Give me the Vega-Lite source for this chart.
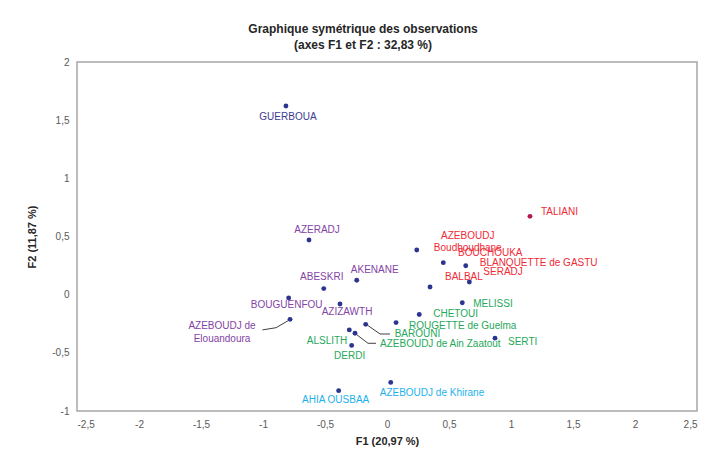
{
  "$schema": "https://vega.github.io/schema/vega-lite/v6.json",
  "width": 620,
  "height": 349,
  "autosize": {"type": "none"},
  "padding": {"left": 77, "top": 62, "right": 11, "bottom": 41},
  "background": "white",
  "title": {
    "text": ["Graphique symétrique des observations", "(axes F1 et F2 : 32,83 %)"],
    "font": "Liberation Sans",
    "fontSize": 12,
    "fontWeight": "bold",
    "color": "#262626",
    "anchor": "middle",
    "dx": -24,
    "offset": 5,
    "lineHeight": 16
  },
  "config": {
    "view": {"stroke": "#a6a6a6", "strokeWidth": 1.5},
    "axis": {
      "grid": false,
      "ticks": false,
      "domain": false,
      "labelFont": "Liberation Sans",
      "labelFontSize": 10,
      "labelColor": "#595959",
      "titleFont": "Liberation Sans",
      "titleFontSize": 11,
      "titleFontWeight": "bold",
      "titleColor": "#262626",
      "labelPadding": 8
    },
    "text": {"font": "Liberation Sans", "fontSize": 10}
  },
  "datasets": {
    "obs": [
      {"name": "GUERBOUA", "label": "GUERBOUA", "group": "g0", "F1": -0.815, "F2": 1.622},
      {"name": "TALIANI", "label": "TALIANI", "group": "red", "F1": 1.153, "F2": 0.673},
      {"name": "AZERADJ", "label": "AZERADJ", "group": "purple", "F1": -0.629, "F2": 0.470},
      {"name": "AKENANE", "label": "AKENANE", "group": "purple", "F1": -0.244, "F2": 0.124},
      {"name": "ABESKRI", "label": "ABESKRI", "group": "purple", "F1": -0.510, "F2": 0.052},
      {"name": "BOUGUENFOU", "label": "BOUGUENFOU", "group": "purple", "F1": -0.793, "F2": -0.028},
      {"name": "AZIZAWTH", "label": "AZIZAWTH", "group": "purple", "F1": -0.379, "F2": -0.080},
      {"name": "AZEBOUDJ de Elouandoura", "label": ["AZEBOUDJ de", "Elouandoura"], "group": "purple", "F1": -0.782, "F2": -0.212},
      {"name": "AZEBOUDJ Boudhoudhane", "label": ["AZEBOUDJ", "Boudhoudhane"], "group": "red", "F1": 0.240, "F2": 0.384},
      {"name": "BOUCHOUKA", "label": "BOUCHOUKA", "group": "red", "F1": 0.454, "F2": 0.275},
      {"name": "BLANQUETTE de GASTU", "label": "BLANQUETTE de GASTU", "group": "red", "F1": 0.635, "F2": 0.249},
      {"name": "SERADJ", "label": "SERADJ", "group": "red", "F1": 0.664, "F2": 0.109},
      {"name": "BALBAL", "label": "BALBAL", "group": "red", "F1": 0.347, "F2": 0.066},
      {"name": "MELISSI", "label": "MELISSI", "group": "green", "F1": 0.607, "F2": -0.069},
      {"name": "CHETOUI", "label": "CHETOUI", "group": "green", "F1": 0.260, "F2": -0.170},
      {"name": "ROUGETTE de Guelma", "label": "ROUGETTE de Guelma", "group": "green", "F1": 0.073, "F2": -0.240},
      {"name": "SERTI", "label": "SERTI", "group": "green", "F1": 0.871, "F2": -0.374},
      {"name": "BAROUNI", "label": "BAROUNI", "group": "green", "F1": -0.172, "F2": -0.255},
      {"name": "AZEBOUDJ de Ain Zaatout", "label": "AZEBOUDJ de Ain Zaatout", "group": "green", "F1": -0.258, "F2": -0.332},
      {"name": "ALSLITH", "label": "ALSLITH", "group": "green", "F1": -0.304, "F2": -0.303},
      {"name": "DERDI", "label": "DERDI", "group": "green", "F1": -0.285, "F2": -0.436},
      {"name": "AHIA OUSBAA", "label": "AHIA OUSBAA", "group": "blue", "F1": -0.390, "F2": -0.825},
      {"name": "AZEBOUDJ de Khirane", "label": "AZEBOUDJ de Khirane", "group": "blue", "F1": 0.030, "F2": -0.754}
    ],
    "leaders": [
      {"leader": "Elouandoura", "ord": 1, "F1": -0.798, "F2": -0.224},
      {"leader": "Elouandoura", "ord": 2, "F1": -0.895, "F2": -0.284},
      {"leader": "Elouandoura", "ord": 3, "F1": -1.005, "F2": -0.303},
      {"leader": "Barouni", "ord": 1, "F1": -0.161, "F2": -0.260},
      {"leader": "Barouni", "ord": 2, "F1": -0.056, "F2": -0.338},
      {"leader": "Barouni", "ord": 3, "F1": 0.024, "F2": -0.338},
      {"leader": "Zaatout", "ord": 1, "F1": -0.242, "F2": -0.346},
      {"leader": "Zaatout", "ord": 2, "F1": -0.153, "F2": -0.418},
      {"leader": "Zaatout", "ord": 3, "F1": -0.089, "F2": -0.418}
    ],
    "xticks": [
      {"v": -2}, {"v": -1.5}, {"v": -1}, {"v": -0.5}, {"v": 0.5}, {"v": 1}, {"v": 1.5}, {"v": 2}
    ],
    "yticks": [
      {"v": -0.5}, {"v": 0.5}, {"v": 1}, {"v": 1.5}
    ]
  },
  "encoding": {
    "x": {
      "field": "F1", "type": "quantitative",
      "scale": {"domain": [-2.5, 2.5], "nice": false, "zero": false},
      "axis": {"title": "F1 (20,97 %)", "values": [-2.5, -2, -1.5, -1, -0.5, 0, 0.5, 1, 1.5, 2, 2.5], "format": ".1~f", "labelExpr": "replace(replace(datum.label, '.', ','), '\u2212', '-')", "titlePadding": 6}
    },
    "y": {
      "field": "F2", "type": "quantitative",
      "scale": {"domain": [-1, 2], "nice": false, "zero": false},
      "axis": {"title": "F2 (11,87 %)", "values": [-1, -0.5, 0, 0.5, 1, 1.5, 2], "format": ".1~f", "labelExpr": "replace(replace(datum.label, '.', ','), '\u2212', '-')", "titlePadding": 14}
    }
  },
  "layer": [
    {"mark": {"type": "rule", "color": "#a6a6a6", "strokeWidth": 1.2}, "encoding": {"x": {"datum": 0}, "y": null}},
    {"mark": {"type": "rule", "color": "#a6a6a6", "strokeWidth": 1.2}, "encoding": {"y": {"datum": 0}, "x": null}},
    {"data": {"name": "xticks"}, "mark": {"type": "tick", "orient": "vertical", "color": "#a6a6a6", "size": 7, "thickness": 1.2}, "encoding": {"x": {"field": "v", "type": "quantitative"}, "y": {"datum": 0}}},
    {"data": {"name": "yticks"}, "mark": {"type": "tick", "orient": "horizontal", "color": "#a6a6a6", "size": 7, "thickness": 1.2}, "encoding": {"y": {"field": "v", "type": "quantitative"}, "x": {"datum": 0}}},
    {"data": {"name": "leaders"}, "mark": {"type": "line", "color": "#404040", "strokeWidth": 1}, "encoding": {"detail": {"field": "leader"}, "order": {"field": "ord", "type": "quantitative"}}},
    {"data": {"name": "obs"}, "mark": {"type": "circle", "size": 24, "opacity": 1}, "encoding": {
      "color": {"condition": {"test": "datum.name === 'TALIANI'", "value": "#b4194e"}, "value": "#2b3590"}
    }},
    {"data": {"name": "obs"}, "transform": [{"filter": {"field": "name", "oneOf": ["GUERBOUA"]}}], "mark": {"type": "text", "align": "center", "baseline": "middle", "dx": 2, "dy": 11, "color": "#3d3c92"}, "encoding": {"text": {"field": "label"}}},
    {"data": {"name": "obs"}, "transform": [{"filter": {"field": "name", "oneOf": ["TALIANI"]}}], "mark": {"type": "text", "align": "left", "baseline": "middle", "dx": 11, "dy": -4, "color": "#ef2a36"}, "encoding": {"text": {"field": "label"}}},
    {"data": {"name": "obs"}, "transform": [{"filter": {"field": "name", "oneOf": ["AZERADJ"]}}], "mark": {"type": "text", "align": "center", "baseline": "middle", "dx": 8, "dy": -10, "color": "#8443a6"}, "encoding": {"text": {"field": "label"}}},
    {"data": {"name": "obs"}, "transform": [{"filter": {"field": "name", "oneOf": ["AKENANE"]}}], "mark": {"type": "text", "align": "center", "baseline": "middle", "dx": 18, "dy": -10, "color": "#8443a6"}, "encoding": {"text": {"field": "label"}}},
    {"data": {"name": "obs"}, "transform": [{"filter": {"field": "name", "oneOf": ["ABESKRI"]}}], "mark": {"type": "text", "align": "center", "baseline": "middle", "dx": -2, "dy": -12, "color": "#8443a6"}, "encoding": {"text": {"field": "label"}}},
    {"data": {"name": "obs"}, "transform": [{"filter": {"field": "name", "oneOf": ["BOUGUENFOU"]}}], "mark": {"type": "text", "align": "center", "baseline": "middle", "dx": -2, "dy": 7, "color": "#8443a6"}, "encoding": {"text": {"field": "label"}}},
    {"data": {"name": "obs"}, "transform": [{"filter": {"field": "name", "oneOf": ["AZIZAWTH"]}}], "mark": {"type": "text", "align": "center", "baseline": "middle", "dx": 7, "dy": 8, "color": "#8443a6"}, "encoding": {"text": {"field": "label"}}},
    {"data": {"name": "obs"}, "transform": [{"filter": {"field": "name", "oneOf": ["AZEBOUDJ de Elouandoura"]}}], "mark": {"type": "text", "align": "center", "baseline": "middle", "dx": -68, "dy": 7, "lineHeight": 12.5, "color": "#8443a6"}, "encoding": {"text": {"field": "label"}}},
    {"data": {"name": "obs"}, "transform": [{"filter": {"field": "name", "oneOf": ["AZEBOUDJ Boudhoudhane"]}}], "mark": {"type": "text", "align": "center", "baseline": "middle", "dx": 51, "dy": -14, "lineHeight": 12.5, "color": "#ef2a36"}, "encoding": {"text": {"field": "label"}}},
    {"data": {"name": "obs"}, "transform": [{"filter": {"field": "name", "oneOf": ["BOUCHOUKA"]}}], "mark": {"type": "text", "align": "center", "baseline": "middle", "dx": 47, "dy": -10, "color": "#ef2a36"}, "encoding": {"text": {"field": "label"}}},
    {"data": {"name": "obs"}, "transform": [{"filter": {"field": "name", "oneOf": ["BLANQUETTE de GASTU"]}}], "mark": {"type": "text", "align": "left", "baseline": "middle", "dx": 14, "dy": -3, "color": "#ef2a36"}, "encoding": {"text": {"field": "label"}}},
    {"data": {"name": "obs"}, "transform": [{"filter": {"field": "name", "oneOf": ["SERADJ"]}}], "mark": {"type": "text", "align": "left", "baseline": "middle", "dx": 14, "dy": -10, "color": "#ef2a36"}, "encoding": {"text": {"field": "label"}}},
    {"data": {"name": "obs"}, "transform": [{"filter": {"field": "name", "oneOf": ["BALBAL"]}}], "mark": {"type": "text", "align": "left", "baseline": "middle", "dx": 15, "dy": -10, "color": "#ef2a36"}, "encoding": {"text": {"field": "label"}}},
    {"data": {"name": "obs"}, "transform": [{"filter": {"field": "name", "oneOf": ["MELISSI"]}}], "mark": {"type": "text", "align": "left", "baseline": "middle", "dx": 11, "dy": 1, "color": "#25a85a"}, "encoding": {"text": {"field": "label"}}},
    {"data": {"name": "obs"}, "transform": [{"filter": {"field": "name", "oneOf": ["CHETOUI"]}}], "mark": {"type": "text", "align": "left", "baseline": "middle", "dx": 14, "dy": 0, "color": "#25a85a"}, "encoding": {"text": {"field": "label"}}},
    {"data": {"name": "obs"}, "transform": [{"filter": {"field": "name", "oneOf": ["ROUGETTE de Guelma"]}}], "mark": {"type": "text", "align": "left", "baseline": "middle", "dx": 13, "dy": 3, "color": "#25a85a"}, "encoding": {"text": {"field": "label"}}},
    {"data": {"name": "obs"}, "transform": [{"filter": {"field": "name", "oneOf": ["SERTI"]}}], "mark": {"type": "text", "align": "left", "baseline": "middle", "dx": 13, "dy": 4, "color": "#25a85a"}, "encoding": {"text": {"field": "label"}}},
    {"data": {"name": "obs"}, "transform": [{"filter": {"field": "name", "oneOf": ["BAROUNI"]}}], "mark": {"type": "text", "align": "left", "baseline": "middle", "dx": 29, "dy": 10, "color": "#25a85a"}, "encoding": {"text": {"field": "label"}}},
    {"data": {"name": "obs"}, "transform": [{"filter": {"field": "name", "oneOf": ["AZEBOUDJ de Ain Zaatout"]}}], "mark": {"type": "text", "align": "left", "baseline": "middle", "dx": 25, "dy": 11, "color": "#25a85a"}, "encoding": {"text": {"field": "label"}}},
    {"data": {"name": "obs"}, "transform": [{"filter": {"field": "name", "oneOf": ["ALSLITH"]}}], "mark": {"type": "text", "align": "right", "baseline": "middle", "dx": -2, "dy": 11, "color": "#25a85a"}, "encoding": {"text": {"field": "label"}}},
    {"data": {"name": "obs"}, "transform": [{"filter": {"field": "name", "oneOf": ["DERDI"]}}], "mark": {"type": "text", "align": "center", "baseline": "middle", "dx": -2, "dy": 11, "color": "#25a85a"}, "encoding": {"text": {"field": "label"}}},
    {"data": {"name": "obs"}, "transform": [{"filter": {"field": "name", "oneOf": ["AHIA OUSBAA"]}}], "mark": {"type": "text", "align": "center", "baseline": "middle", "dx": -3, "dy": 9, "color": "#1db1ec"}, "encoding": {"text": {"field": "label"}}},
    {"data": {"name": "obs"}, "transform": [{"filter": {"field": "name", "oneOf": ["AZEBOUDJ de Khirane"]}}], "mark": {"type": "text", "align": "left", "baseline": "middle", "dx": -11, "dy": 11, "color": "#1db1ec"}, "encoding": {"text": {"field": "label"}}}
  ]
}
